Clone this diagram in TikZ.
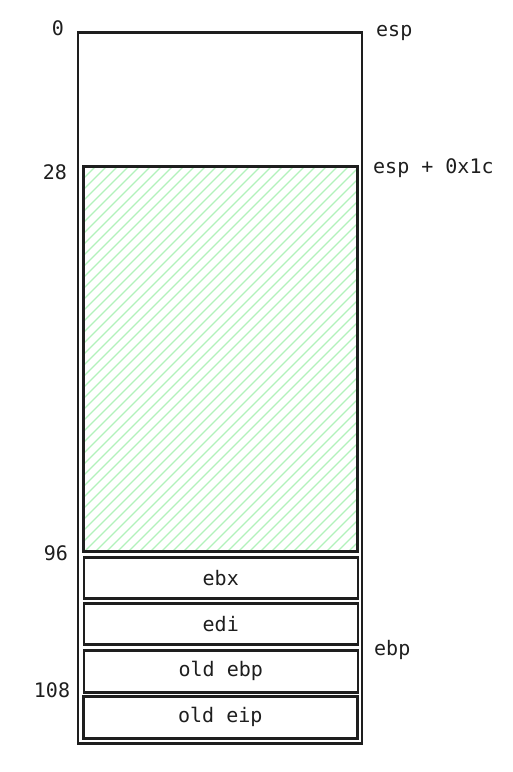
\documentclass[tikz,border=0pt]{standalone}
\usepackage{fontspec}
\setmonofont{DejaVu Sans Mono}
\definecolor{ink}{HTML}{1E1E1E}
\definecolor{hatch}{HTML}{B2F2BB}
\begin{document}
\begin{tikzpicture}[x=1pt,y=-1pt,
  lbl/.style={font=\ttfamily\fontsize{20}{22}\selectfont,text=ink,inner sep=0pt},
  cell/.style={draw=ink,line width=2.5pt,fill=white,inner sep=0pt,font=\ttfamily\fontsize{20}{22}\selectfont,text=ink}]
\useasboundingbox (0,0) rectangle (513,772);
% outer frame
\node[cell,minimum width=284pt,minimum height=711pt,anchor=north west] (frame) at (76.5,31) {};
% hatched area
\begin{scope}
\clip (82,165) rectangle (356,550);
\foreach \c in {240,251,...,1000} {
  \draw[hatch,line width=1.2pt] (\c-700,700) -- (\c,0);
}
\end{scope}
\node[draw=ink,line width=2.5pt,minimum width=274pt,minimum height=385pt,anchor=north west,inner sep=0pt] (buf) at (82,165) {};
% register cells
\node[cell,minimum width=274pt,minimum height=41pt,anchor=north west] (ebx) at (82.5,556) {ebx};
\node[cell,minimum width=274pt,minimum height=41pt,anchor=north west] (edi) at (82.5,602) {edi};
\node[cell,minimum width=274pt,minimum height=42pt,anchor=north west] (oebp) at (82.5,649) {old ebp};
\node[cell,minimum width=274pt,minimum height=42pt,anchor=north west] (oeip) at (82,695) {old eip};
% offsets
\node[lbl] (l0) at (58,28) {0};
\node[lbl] (l28) at (55,172) {28};
\node[lbl] (l96) at (56,553) {96};
\node[lbl] (l108) at (52,690) {108};
% register labels
\node[lbl,anchor=west] (esp) at (376,33) {esp};
\node[lbl,anchor=west] (espo) at (373,168) {esp + 0x1c};
\node[lbl,anchor=west] (ebp) at (374,650) {ebp};
\end{tikzpicture}
\end{document}
